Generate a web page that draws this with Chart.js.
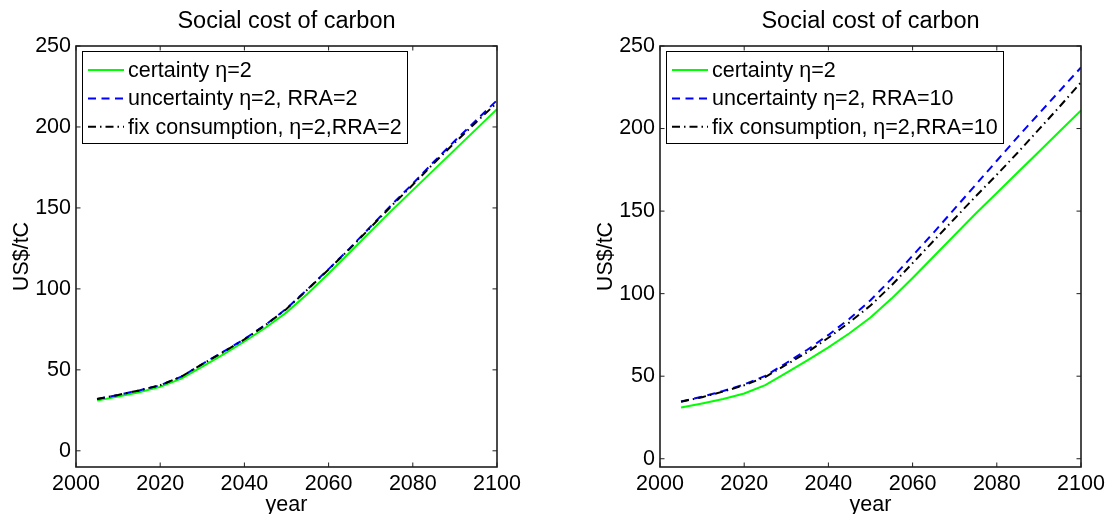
<!DOCTYPE html>
<html>
<head>
<meta charset="utf-8">
<script src="https://cdn.jsdelivr.net/npm/chart.js@4.4.1/dist/chart.umd.min.js"></script>
<style>
  html, body { margin: 0; padding: 0; background: #fff; overflow: hidden; }
  #wrap { position: relative; width: 1107px; height: 514px; overflow: hidden; }
  canvas { position: absolute; top: 0; }
</style>
</head>
<body>
<div id="wrap">
  <canvas id="left" width="553" height="524" style="left:0"></canvas>
  <canvas id="right" width="554" height="524" style="left:553px"></canvas>
</div>
<script>
// values, every 5 years
const years = [2005, 2010, 2015, 2020, 2025, 2030, 2035, 2040, 2045, 2050,
               2055, 2060, 2065, 2070, 2075, 2080, 2085, 2090, 2095, 2100];
const certainty   = [31, 33.5, 36.2, 39.5, 44.6, 52, 59.6, 67.5, 76, 85.5,
                     97, 109.5, 122.5, 135.5, 148.5, 161, 173.5, 186, 198.5, 211];
const uncertRRA2  = [32, 34.5, 37.3, 40.5, 45.8, 53.6, 61.2, 69, 77.8, 87.8,
                     99.8, 112.2, 125, 138.5, 152, 165, 178.5, 191.5, 204, 216.5];
const fixRRA2     = [32, 34.5, 37.3, 40.5, 45.8, 53.5, 61, 68.8, 77.6, 87.6,
                     99.6, 112, 124.7, 138, 151.4, 164.3, 177.6, 190.4, 202.8, 215];
const uncertRRA10 = [34.7, 37.6, 41, 45, 50.2, 58, 66, 75, 84.8, 96,
                     109, 123, 137, 151.5, 166, 180.5, 195, 209, 223, 237];
const fixRRA10    = [34.5, 37.3, 40.7, 44.5, 49.5, 57, 64.5, 73.3, 82.6, 92.8,
                     105, 118.5, 132, 145.5, 159, 172, 185.5, 199.5, 213.5, 228];
const xTicks = [2000, 2020, 2040, 2060, 2080, 2100];
const yTicks = [0, 50, 100, 150, 200, 250];

const FONT = '"Liberation Sans", Arial, Helvetica, sans-serif';
const font = { family: FONT, size: 21.5, weight: 'normal' };

function series(vals) {
  return years.map((x, i) => ({ x: x, y: vals[i] }));
}

// box round the axes with inward ticks, matlab style
const boxPlugin = {
  id: 'matlabBox',
  afterDatasetsDraw(chart) {
    const { ctx, chartArea: a, scales } = chart;
    const tl = 4.5;
    ctx.save();
    ctx.strokeStyle = '#1e1e1e';
    ctx.lineWidth = 1;
    ctx.beginPath();
    scales.x.ticks.forEach(t => {
      const px = scales.x.getPixelForValue(t.value);
      ctx.moveTo(px, a.bottom); ctx.lineTo(px, a.bottom - tl);
      ctx.moveTo(px, a.top); ctx.lineTo(px, a.top + tl);
    });
    scales.y.ticks.forEach(t => {
      const py = scales.y.getPixelForValue(t.value);
      ctx.moveTo(a.left, py); ctx.lineTo(a.left + tl, py);
      ctx.moveTo(a.right, py); ctx.lineTo(a.right - tl, py);
    });
    ctx.stroke();
    ctx.lineWidth = 1.6;
    ctx.strokeRect(a.left, a.top, a.right - a.left, a.bottom - a.top);
    ctx.restore();
  }
};

// legend inside the top left corner
const legendPlugin = {
  id: 'insetLegend',
  afterDraw(chart) {
    const { ctx, chartArea: a } = chart;
    const sets = chart.data.datasets;
    ctx.save();
    ctx.font = font.size + 'px ' + FONT;
    const textW = Math.max(...sets.map(d => ctx.measureText(d.label).width));
    const bx = Math.round(a.left + 6), by = Math.round(a.top + 5);
    const bw = Math.round(46 + textW + 5), bh = 92;
    ctx.fillStyle = '#fff';
    ctx.fillRect(bx, by, bw, bh);
    ctx.strokeStyle = '#000';
    ctx.lineWidth = 1;
    ctx.strokeRect(bx + 0.5, by + 0.5, bw, bh);
    sets.forEach((d, i) => {
      const cy = by + 19 + i * 28.4;
      ctx.beginPath();
      ctx.setLineDash(d.borderDash || []);
      ctx.strokeStyle = d.borderColor;
      ctx.lineWidth = d.borderWidth;
      ctx.moveTo(bx + 6, cy);
      ctx.lineTo(bx + 42, cy);
      ctx.stroke();
      ctx.setLineDash([]);
      ctx.fillStyle = '#000';
      ctx.textBaseline = 'middle';
      ctx.textAlign = 'left';
      ctx.fillText(d.label, bx + 46, cy + 1);
    });
    ctx.restore();
  }
};

function makeChart(id, blue, black, rra, yMin, padLeft, padRight) {
  const ctx = document.getElementById(id).getContext('2d');
  return new Chart(ctx, {
    type: 'line',
    data: {
      datasets: [
        { label: 'certainty η=2', data: series(certainty), borderColor: '#00ff00',
          borderWidth: 2, pointRadius: 0, tension: 0, fill: false, order: 3 },
        { label: 'uncertainty η=2, RRA=' + rra, data: series(blue), borderColor: '#0000ff',
          borderWidth: 2, borderDash: [8, 5.5], pointRadius: 0, tension: 0, fill: false, order: 2 },
        { label: 'fix consumption, η=2,RRA=' + rra, data: series(black), borderColor: '#000000',
          borderWidth: 2, borderDash: [8, 4, 1.5, 4], pointRadius: 0, tension: 0, fill: false, order: 1 }
      ]
    },
    options: {
      responsive: false,
      animation: false,
      devicePixelRatio: 1,
      layout: { padding: { left: padLeft, right: padRight, top: 0, bottom: 0 } },
      plugins: {
        legend: { display: false },
        tooltip: { enabled: false },
        title: {
          display: true, text: 'Social cost of carbon', color: '#000', fullSize: false,
          font: { family: FONT, size: 23.5, weight: 'normal' },
          padding: { top: 7, bottom: 10.8 }
        }
      },
      scales: {
        x: {
          type: 'linear', min: 2000, max: 2100,
          afterBuildTicks: s => { s.ticks = xTicks.map(v => ({ value: v })); },
          afterFit: s => { s.height = 57; s.paddingLeft = 0; s.paddingRight = 0; },
          grid: { display: false, drawTicks: false },
          border: { display: false },
          ticks: { color: '#000', font: font, padding: 4, maxRotation: 0, autoSkip: false,
                   callback: v => String(v) },
          title: { display: true, text: 'year', color: '#000', font: font,
                   padding: { top: 0, bottom: 6 } }
        },
        y: {
          type: 'linear', min: yMin, max: 250,
          afterBuildTicks: s => { s.ticks = yTicks.map(v => ({ value: v })); },
          afterFit: s => { s.width = 76; s.paddingTop = 0; s.paddingBottom = 0; },
          grid: { display: false, drawTicks: false },
          border: { display: false },
          ticks: { color: '#000', font: font, padding: 5 },
          title: { display: true, text: 'US$/tC', color: '#000', font: font,
                   padding: { top: 9, bottom: 0 } }
        }
      }
    },
    plugins: [boxPlugin, legendPlugin]
  });
}

makeChart('left', uncertRRA2, fixRRA2, 2, -10, 0, 56);
makeChart('right', uncertRRA10, fixRRA10, 10, -5, 31, 26);
</script>
</body>
</html>
